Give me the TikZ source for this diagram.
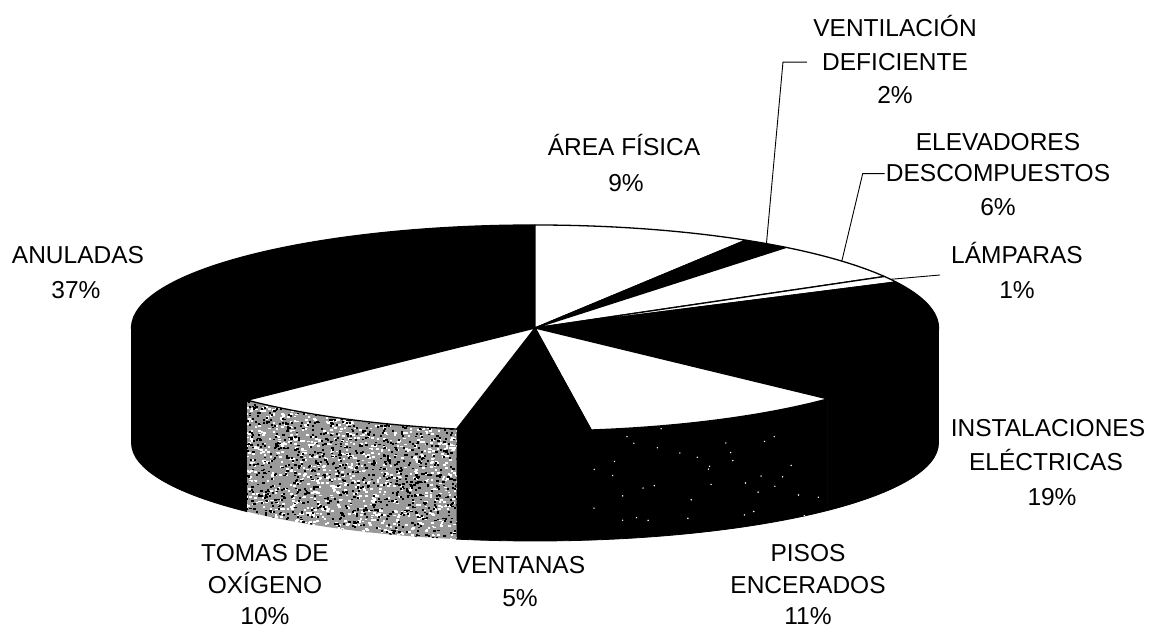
\documentclass[tikz,border=0pt]{standalone}
\usepackage{fontspec}
\setmainfont{Liberation Sans}
\def\pcx{535}
\def\pcyt{300}
\def\pcyb{185}
\def\prx{403.5}
\def\pryt{103}
\def\pryb{98}
\newcommand\pietop[3]{%
  \path[#1] (\pcx,\pcyt) -- ({\pcx+\prx*cos(#2)},{\pcyt+\pryt*sin(#2)})
    arc[start angle=#2, end angle=#3, x radius=\prx, y radius=\pryt] -- cycle;}
\newcommand\pieside[3]{%
  \path[#1] ({\pcx+\prx*cos(#2)},{\pcyt+\pryt*sin(#2)})
    arc[start angle=#2, end angle=#3, x radius=\prx, y radius=\pryt]
    -- ({\pcx+\prx*cos(#3)},{\pcyb+\pryb*sin(#3)})
    arc[start angle=#3, end angle=#2, x radius=\prx, y radius=\pryb] -- cycle;}
\begin{document}
\begin{tikzpicture}[x=1pt,y=1pt,
  lbl/.style={font=\fontsize{24.5}{30}\selectfont, anchor=base, inner sep=0pt},
  leader/.style={draw=black, line width=0.9pt},
  topw/.style={fill=white, draw=black, line width=1.3pt, line join=round},
  topb/.style={fill=black, draw=black, line width=1.3pt, line join=round},
  sideb/.style={fill=black, draw=black, line width=0.8pt},
  speckw/.style={fill=white},
  speckb/.style={fill=black}]
\useasboundingbox[fill=white] (0,0) rectangle (1155,628);
% sides
\pieside{sideb}{-180}{-135.5}
\pieside{sideb}{-101.2}{-82}
\pieside{sideb}{-82}{-43.5}
\pieside{sideb}{-43.5}{0}
\begin{scope}
  \pieside{clip}{-135.5}{-101.2}
  \fill[black!40] (225,80) rectangle (475,240);
  \pgfmathsetseed{12}
  \foreach \i in {1,...,1500}{
    \pgfmathsetmacro\xx{350+120*rand}
    \pgfmathsetmacro\yy{160+80*rand}
    \fill[speckw] (\xx,\yy) rectangle ++(2.6,1.8);}
  \foreach \i in {1,...,1500}{
    \pgfmathsetmacro\xx{350+120*rand}
    \pgfmathsetmacro\yy{160+80*rand}
    \fill[speckb] (\xx,\yy) rectangle ++(2.2,1.8);}
\end{scope}
\begin{scope}
  \pieside{clip}{-82}{-43.5}
  \pgfmathsetseed{31}
  \foreach \i in {1,...,40}{
    \pgfmathsetmacro\xx{705+115*rand}
    \pgfmathsetmacro\yy{145+55*rand}
    \fill[speckw] (\xx,\yy) circle[radius=0.8];}
\end{scope}
% tops
\pietop{topb}{224.5}{90}
\pietop{topw}{90}{58.5}
\pietop{topb}{58.5}{51.5}
\pietop{topw}{51.5}{30}
\pietop{topw}{30}{26.5}
\pietop{topb}{26.5}{-43.5}
\pietop{topw}{-43.5}{-82}
\pietop{topb}{-82}{-101.2}
\pietop{topw}{-101.2}{-135.5}
% labels
\node[lbl] (area1) at (624,472) {ÁREA FÍSICA};
\node[lbl] (area2) at (626,436) {9\%};
\node[lbl] (vent1) at (895,591) {VENTILACIÓN};
\node[lbl] (vent2) at (895,557.5) {DEFICIENTE};
\node[lbl] (vent3) at (895,524) {2\%};
\node[lbl] (elev1) at (998,477.5) {ELEVADORES};
\node[lbl] (elev2) at (998,446) {DESCOMPUESTOS};
\node[lbl] (elev3) at (998,412.5) {6\%};
\node[lbl] (lamp1) at (1017,364) {LÁMPARAS};
\node[lbl] (lamp2) at (1017,329) {1\%};
\node[lbl] (inst1) at (1048,191) {INSTALACIONES};
\node[lbl] (inst2) at (1046,157) {ELÉCTRICAS};
\node[lbl] (inst3) at (1052,122) {19\%};
\node[lbl] (anul1) at (78,364) {ANULADAS};
\node[lbl] (anul2) at (76,329) {37\%};
\node[lbl] (toma1) at (265,66) {TOMAS DE};
\node[lbl] (toma2) at (265,34.5) {OXÍGENO};
\node[lbl] (toma3) at (265,3.5) {10\%};
\node[lbl] (vtna1) at (520,54) {VENTANAS};
\node[lbl] (vtna2) at (520,21) {5\%};
\node[lbl] (piso1) at (808,66) {PISOS};
\node[lbl] (piso2) at (808,34.5) {ENCERADOS};
\node[lbl] (piso3) at (808,3.5) {11\%};
% leaders
\coordinate (ventpt) at ({\pcx+\prx*cos(55)},{\pcyt+\pryt*sin(55)});
\coordinate (elevpt) at ({\pcx+\prx*cos(40.5)},{\pcyt+\pryt*sin(40.5)});
\coordinate (lamppt) at ({\pcx+\prx*cos(28.2)},{\pcyt+\pryt*sin(28.2)});
\coordinate (lampend) at (940,353);
\draw[leader] ([xshift=-15pt]vent2.west) -- ++(-24,0) -- (ventpt);
\draw[leader] ([xshift=-1pt]elev2.west) -- ++(-22,0) -- (elevpt);
\draw[leader] (lampend) -- (lamppt);
\end{tikzpicture}
\end{document}
